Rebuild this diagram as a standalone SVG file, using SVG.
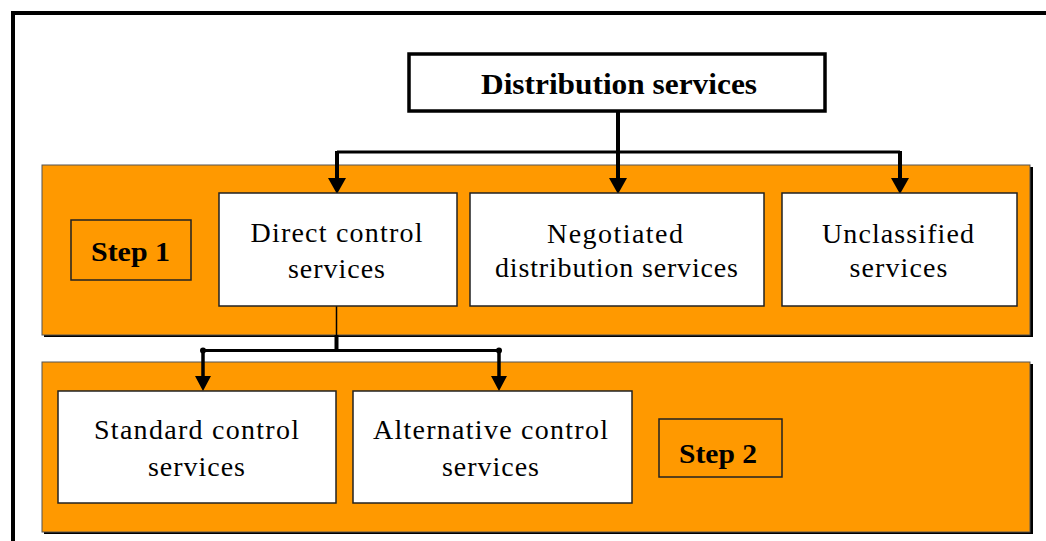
<svg xmlns="http://www.w3.org/2000/svg" width="1046" height="541" viewBox="0 0 1046 541">
  <defs>
    <style>
      .frame { fill: none; stroke: #000; stroke-width: 4; }
      .panel { fill: #FF9900; stroke: #555; stroke-width: 1; }
      .shadow { fill: #000; }
      .box { fill: #fff; stroke: #222; stroke-width: 1.5; }
      .step { fill: none; stroke: #222; stroke-width: 1.5; }
      .label { font-family: "Liberation Serif", "Times New Roman", serif; font-size: 28px; fill: #000; text-anchor: middle; }
      .bold { font-family: "Liberation Serif", "Times New Roman", serif; font-weight: bold; fill: #000; text-anchor: middle; }
      .wire { fill: none; stroke: #000; stroke-linejoin: miter; }
    </style>
  </defs>

  <!-- page frame (top and left edges only) -->
  <path class="frame" d="M13,541 V13 H1046"/>

  <!-- Step 1 band -->
  <g id="panel-step1">
    <rect class="shadow" x="44" y="167" width="989" height="170"/>
    <rect class="panel" x="42" y="165" width="988" height="170"/>
  </g>

  <!-- Step 2 band -->
  <g id="panel-step2">
    <rect class="shadow" x="44" y="364" width="989" height="170"/>
    <rect class="panel" x="42" y="362" width="988" height="170"/>
  </g>

  <!-- connectors -->
  <g id="connectors">
    <!-- from Distribution services to the three first-level categories -->
    <path class="wire" stroke-width="4" d="M618,111 V178"/>
    <path class="wire" stroke-width="3" d="M337,152 H900"/>
    <path class="wire" stroke-width="4" d="M337,151 V178"/>
    <path class="wire" stroke-width="4" d="M900,151 V178"/>
    <path d="M609,178 H627 L618,194 Z" fill="#000"/>
    <path d="M328,178 H346 L337,194 Z" fill="#000"/>
    <path d="M891,178 H909 L900,194 Z" fill="#000"/>

    <!-- from Direct control services to the two second-level categories -->
    <path class="wire" stroke-width="1.5" d="M336.5,306 V336"/>
    <path class="wire" stroke-width="4" d="M336.5,335 V351"/>
    <path class="wire" stroke-width="3" d="M203,350.5 H499"/>
    <path class="wire" stroke-width="3.5" d="M203,350 V377"/>
    <path class="wire" stroke-width="3.5" d="M499,350 V377"/>
    <circle cx="203" cy="350.5" r="3" fill="#000"/>
    <circle cx="499" cy="350.5" r="3" fill="#000"/>
    <path d="M195,376 H211 L203,391 Z" fill="#000"/>
    <path d="M491,376 H507 L499,391 Z" fill="#000"/>
  </g>

  <!-- root node -->
  <g id="node-distribution">
    <rect x="409" y="54" width="416" height="57" fill="#fff" stroke="#000" stroke-width="3.5"/>
    <text class="bold" x="619" y="94" font-size="30" textLength="276" lengthAdjust="spacingAndGlyphs">Distribution services</text>
  </g>

  <!-- Step 1 nodes -->
  <g id="label-step1">
    <rect class="step" x="71" y="220" width="120" height="60"/>
    <text class="bold" x="130.5" y="261" font-size="28" textLength="79" lengthAdjust="spacingAndGlyphs">Step 1</text>
  </g>

  <g id="node-direct">
    <rect class="box" x="219" y="193" width="238" height="113"/>
    <text class="label" x="336.5" y="242" textLength="172" lengthAdjust="spacing">Direct control</text>
    <text class="label" x="336.5" y="278" textLength="97" lengthAdjust="spacing">services</text>
  </g>

  <g id="node-negotiated">
    <rect class="box" x="470" y="193" width="294" height="113"/>
    <text class="label" x="615" y="243" textLength="136" lengthAdjust="spacing">Negotiated</text>
    <text class="label" x="616.5" y="277" textLength="243" lengthAdjust="spacing">distribution services</text>
  </g>

  <g id="node-unclassified">
    <rect class="box" x="782" y="193" width="235" height="113"/>
    <text class="label" x="898" y="243" textLength="152" lengthAdjust="spacing">Unclassified</text>
    <text class="label" x="898.5" y="277" textLength="98" lengthAdjust="spacing">services</text>
  </g>

  <!-- Step 2 nodes -->
  <g id="node-standard">
    <rect class="box" x="58" y="391" width="278" height="112"/>
    <text class="label" x="196.5" y="439" textLength="205" lengthAdjust="spacing">Standard control</text>
    <text class="label" x="196.5" y="476" textLength="97" lengthAdjust="spacing">services</text>
  </g>

  <g id="node-alternative">
    <rect class="box" x="353" y="391" width="279" height="112"/>
    <text class="label" x="490.5" y="439" textLength="235" lengthAdjust="spacing">Alternative control</text>
    <text class="label" x="490.5" y="476" textLength="97" lengthAdjust="spacing">services</text>
  </g>

  <g id="label-step2">
    <rect class="step" x="659" y="419" width="123" height="58"/>
    <text class="bold" x="718" y="463" font-size="28" textLength="78" lengthAdjust="spacingAndGlyphs">Step 2</text>
  </g>
</svg>
